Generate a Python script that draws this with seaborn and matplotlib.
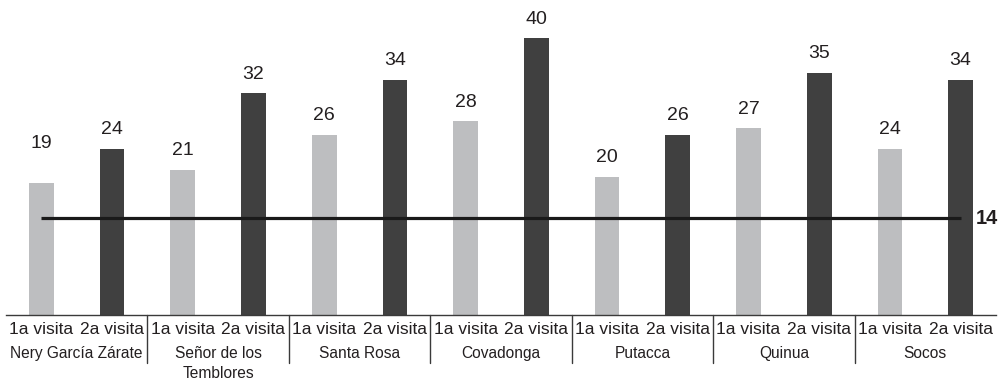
import matplotlib
matplotlib.use("Agg")
import matplotlib.pyplot as plt
import matplotlib.transforms as mtransforms
import seaborn as sns
import pandas as pd

# ---- data ----
groups = ["Nery García Zárate", "Señor de los\nTemblores", "Santa Rosa", "Covadonga",
          "Putacca", "Quinua", "Socos"]
visits = ["1a visita", "2a visita"]
first_visit = [19, 21, 26, 28, 20, 27, 24]
second_visit = [24, 32, 34, 40, 26, 35, 34]
reference_value = 14

rows = []
for g, (a, b) in enumerate(zip(first_visit, second_visit)):
    rows.append({"pos": f"{g}-1", "visit": visits[0], "value": a})
    rows.append({"pos": f"{g}-2", "visit": visits[1], "value": b})
df = pd.DataFrame(rows)

sns.set_theme(style="white")
plt.rcParams["font.family"] = ["Liberation Sans", "DejaVu Sans"]
text_color = "#231f20"

fig = plt.figure(figsize=(10.07, 3.79), dpi=100)
ax = fig.add_axes([6 / 1007, 1 - 315 / 379, 990 / 1007, 315 / 379])

sns.barplot(data=df, x="pos", y="value", hue="visit",
            palette={visits[0]: "#bdbec0", visits[1]: "#404040"},
            dodge=False, width=0.35, legend=False, ax=ax,
            edgecolor="none", linewidth=0)

ax.set_ylim(0, 45.5)
ax.set_xlim(-0.5, len(df) - 0.5)
ax.set_xlabel("")
ax.set_ylabel("")
ax.set_yticks([])
ax.set_xticks(range(len(df)))
ax.set_xticklabels(df["visit"].tolist(), fontsize=12.5, color=text_color)
ax.tick_params(axis="x", length=0, pad=5)
for s in ["top", "left", "right"]:
    ax.spines[s].set_visible(False)
ax.spines["bottom"].set_color("#3a3a3a")
ax.spines["bottom"].set_linewidth(1.0)

# value labels
for i, v in enumerate(df["value"]):
    off = 2.75 + (3.0 if i == 0 else 0)
    ax.text(i, v + off, str(v), ha="center", va="center", fontsize=14,
            color=text_color)

# reference line
ax.hlines(reference_value, 0, len(df) - 1, color="#1a1a1a", lw=2.3, zorder=5)
ax.text(len(df) - 1 + 0.37, reference_value, str(reference_value), ha="center",
        va="center", fontsize=14.5, fontweight="bold", color=text_color, clip_on=False)

# group labels and separators
trans = mtransforms.blended_transform_factory(ax.transData, ax.transAxes)
for g, name in enumerate(groups):
    ax.text(2 * g + 0.5, -31 / 315, name, ha="center", va="top", fontsize=11.2,
            color=text_color, transform=trans, linespacing=1.4)
    if g > 0:
        ax.plot([2 * g - 0.5, 2 * g - 0.5], [0, -48 / 315], color="#3a3a3a",
                lw=1.0, transform=trans, clip_on=False)

fig.savefig("out.png", dpi=100)
